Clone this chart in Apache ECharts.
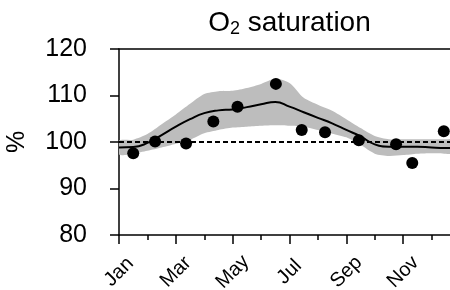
<!DOCTYPE html>
<html>
<head>
    <meta charset="utf-8">
    <title>O2 saturation</title>
    <script src="https://cdn.jsdelivr.net/npm/echarts@6/dist/echarts.min.js"></script>
    <style>
        html, body { margin: 0; padding: 0; background: #fff; }
        #main { width: 450px; height: 290px; }
    </style>
</head>
<body>
<div id="main"></div>
<script type="text/javascript">
    // month index on x (0 = Jan)
    var monthLabels = ['Jan', 'Mar', 'May', 'Jul', 'Sep', 'Nov'];
    var yTicks = [80, 90, 100, 110, 120];
    var refLevel = 100;

    // smoothed fit with its band
    var fitX = [0, 0.5, 1, 1.5, 2, 2.5, 3, 3.5, 4, 4.5, 5, 5.5, 6, 6.5, 7, 7.5, 8, 8.5, 9, 9.5, 10, 10.5, 11, 11.5, 12];
    var fitMean = [98.8, 98.9, 99.8, 101.5, 103.3, 104.9, 106.2, 106.8, 107.0, 107.5, 108.1, 108.6, 107.6, 106.4, 105.2, 104.0, 102.6, 101.2, 99.5, 99.0, 99.0, 99.0, 98.8, 98.7, 98.7];
    var bandLow = [97.3, 97.5, 98.1, 98.8, 99.6, 100.5, 101.9, 102.6, 103.1, 103.3, 103.5, 103.6, 103.5, 103.3, 102.6, 101.8, 101.0, 99.4, 97.5, 97.0, 97.2, 97.5, 97.6, 97.5, 97.4];
    var bandHigh = [100.3, 100.5, 101.7, 103.8, 105.9, 108.2, 110.3, 110.9, 111.0, 111.6, 112.5, 113.6, 112.7, 109.5, 108.0, 106.7, 104.9, 103.0, 101.3, 100.6, 100.6, 100.6, 100.6, 100.6, 100.6];

    // monthly observations
    var obsX = [0.50, 1.27, 2.36, 3.32, 4.17, 5.52, 6.43, 7.25, 8.44, 9.75, 10.32, 11.43];
    var obsY = [97.6, 100.1, 99.7, 104.4, 107.6, 112.5, 102.6, 102.1, 100.4, 99.5, 95.5, 102.3];

    function pairs(xs, ys) {
        return xs.map(function (x, i) { return [x, ys[i]]; });
    }

    var font = 'Liberation Sans, Arial, sans-serif';
    var myChart = echarts.init(document.getElementById('main'));

    // band polygon: upper edge forward, lower edge back
    function renderBand(params, api) {
        if (params.dataIndex !== 0) return;
        var pts = [];
        for (var i = 0; i < fitX.length; i++) pts.push(api.coord([fitX[i], bandHigh[i]]));
        for (var j = fitX.length - 1; j >= 0; j--) pts.push(api.coord([fitX[j], bandLow[j]]));
        return {
            type: 'polygon',
            shape: { points: pts, smooth: 0.25 },
            style: { fill: '#bdbdbd', stroke: 'none' }
        };
    }

    var option = {
        animation: false,
        backgroundColor: '#fff',
        grid: { left: 119, right: -10, top: 49, bottom: 55, outerBoundsMode: 'none', containLabel: false },
        xAxis: [{
            type: 'value',
            position: 'bottom',
            min: 0,
            max: 12,
            interval: 2,
            splitLine: { show: false },
            axisLine: { lineStyle: { color: '#000', width: 1.5 } },
            axisTick: { length: 9, lineStyle: { color: '#000', width: 1.5 } },
            minorTick: { show: true, splitNumber: 2, length: 5, lineStyle: { color: '#000', width: 1.5 } },
            axisLabel: {
                rotate: 45,
                align: 'center',
                verticalAlign: 'middle',
                margin: 37,
                color: '#000',
                fontFamily: font,
                fontSize: 20,
                formatter: function (v) {
                    var i = Math.round(v / 2);
                    return monthLabels[i] || '';
                }
            }
        }, {
            type: 'value',
            position: 'top',
            min: 0,
            max: 12,
            splitLine: { show: false },
            axisLine: { lineStyle: { color: '#000', width: 1.5 } },
            axisTick: { show: false },
            axisLabel: { show: false },
            name: '{a|O}{b|2}{a| saturation}',
            nameLocation: 'middle',
            nameGap: 11,
            nameTextStyle: {
                rich: {
                    a: { fontFamily: font, fontSize: 28, color: '#000' },
                    b: { fontFamily: font, fontSize: 18, color: '#000', padding: [12, 0, 0, 0] }
                }
            }
        }],
        yAxis: {
            type: 'value',
            min: yTicks[0],
            max: yTicks[yTicks.length - 1],
            interval: 10,
            splitLine: { show: false },
            axisLine: { show: true, lineStyle: { color: '#000', width: 1.5 } },
            axisTick: { show: true, length: 9, lineStyle: { color: '#000', width: 1.5 } },
            axisLabel: { margin: 32, color: '#000', fontFamily: font, fontSize: 25 },
            name: '%',
            nameLocation: 'middle',
            nameRotate: 90,
            nameGap: 89,
            nameTextStyle: { color: '#000', fontFamily: font, fontSize: 25 }
        },
        series: [{
            name: 'band',
            type: 'custom',
            clip: true,
            renderItem: renderBand,
            data: fitX,
            z: 1
        }, {
            name: 'fit',
            type: 'line',
            smooth: true,
            symbol: 'none',
            lineStyle: { color: '#000', width: 2 },
            data: pairs(fitX, fitMean),
            markLine: {
                silent: true,
                symbol: 'none',
                label: { show: false },
                lineStyle: { color: '#000', width: 2, type: [5, 3] },
                data: [{ yAxis: refLevel }]
            }
        }, {
            name: 'obs',
            type: 'scatter',
            symbolSize: 12,
            itemStyle: { color: '#000', opacity: 1 },
            data: pairs(obsX, obsY)
        }]
    };
    myChart.setOption(option);
</script>
</body>
</html>
